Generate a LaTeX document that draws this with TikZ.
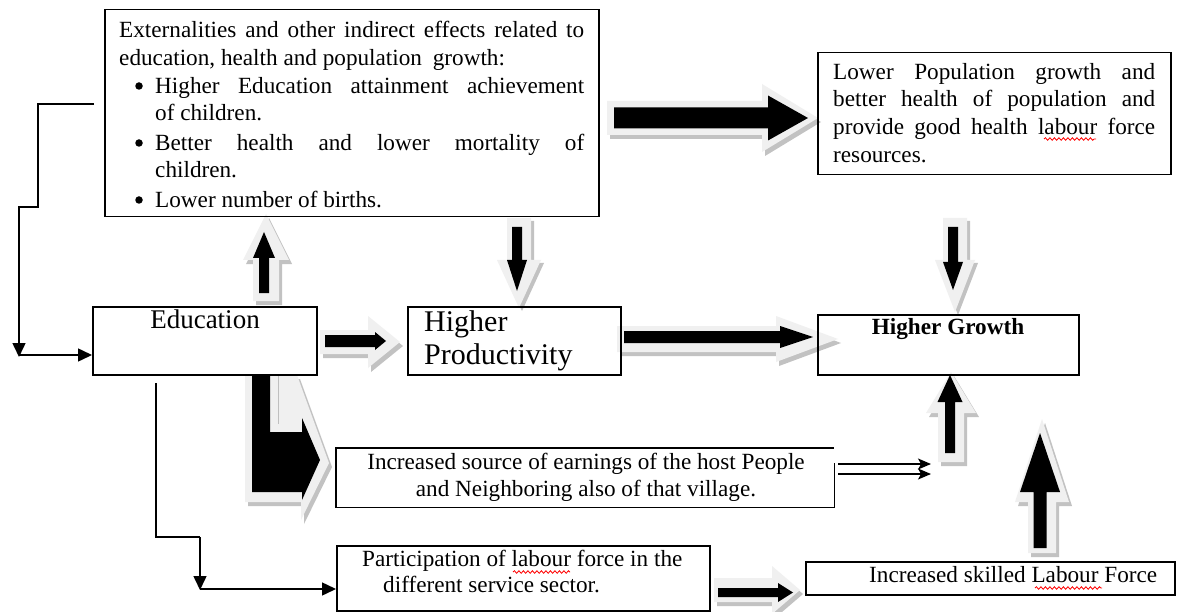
\documentclass[tikz,border=0pt]{standalone}
\usepackage{fontspec}
\setmainfont{Liberation Serif}
\usetikzlibrary{arrows.meta,calc,decorations.pathmorphing}

\tikzset{
  box/.style={draw=black, line width=1.5pt, inner sep=0pt, anchor=north west},
  conn/.style={line width=1.5pt, -{Triangle[length=14pt,width=13pt]}},
  wire/.style={line width=1.5pt},
  blk/.style={fill=black},
  glow/.style={fill=black!6},
  shade/.style={fill=black!24},
  dot/.style={circle, fill=black, inner sep=0pt, minimum size=7.5pt},
  squig/.style={red, line width=0.8pt, decorate, decoration={snake, amplitude=1.3pt, segment length=4.5pt}},
  txt/.style={inner sep=0pt, anchor=base west, font=\fontsize{23.2}{28}\selectfont},
  ctxt/.style={inner sep=0pt, anchor=base, font=\fontsize{23.2}{28}\selectfont},
}

% right / up / down block arrows: style, tail, tip, centre, shaft half width, head half width, head length
\newcommand\myRA[7]{\fill[#1] (#2,{#4-#5}) -- ({#3-#7},{#4-#5}) -- ({#3-#7},{#4-#6}) -- (#3,#4) -- ({#3-#7},{#4+#6}) -- ({#3-#7},{#4+#5}) -- (#2,{#4+#5}) -- cycle;}
% centre x, tail y, tip y, ...
\newcommand\myUA[7]{\fill[#1] ({#2-#5},#3) -- ({#2-#5},{#4+#7}) -- ({#2-#6},{#4+#7}) -- (#2,#4) -- ({#2+#6},{#4+#7}) -- ({#2+#5},{#4+#7}) -- ({#2+#5},#3) -- cycle;}
\newcommand\myDA[7]{\fill[#1] ({#2-#5},#3) -- ({#2-#5},{#4-#7}) -- ({#2-#6},{#4-#7}) -- (#2,#4) -- ({#2+#6},{#4-#7}) -- ({#2+#5},{#4-#7}) -- ({#2+#5},#3) -- cycle;}

\begin{document}
\begin{tikzpicture}[x=1pt,y=-1pt]
\useasboundingbox (0,0) rectangle (1177,612);
\fill[white] (0,0) rectangle (1177,612);

% ---------- glows and shadows of the block arrows ----------
\myRA{shade,shift={(3,4)}}{607}{818}{118}{17}{34}{56}
\myRA{glow}{607}{818}{118}{17}{34}{56}
\myRA{shade,shift={(3,4)}}{320}{400}{342}{12}{26}{32}
\myRA{glow}{320}{400}{342}{12}{26}{32}
\myRA{shade,shift={(3,4)}}{617}{838}{339}{13}{23}{62}
\myRA{glow}{617}{838}{339}{13}{23}{62}
\myUA{shade,shift={(3,4)}}{266}{301}{214}{13}{23}{46}
\myUA{glow}{266}{301}{214}{13}{23}{46}
\myDA{shade,shift={(3,3)}}{519}{218}{308}{12}{22}{48}
\myDA{glow}{519}{218}{308}{12}{22}{48}
\myDA{shade,shift={(3,3)}}{955}{218}{312}{12}{20}{52}
\myDA{glow}{955}{218}{312}{12}{20}{52}
\myUA{shade,shift={(3,4)}}{951}{462}{372}{13}{25}{41}
\myUA{glow}{951}{462}{372}{13}{25}{41}
\myUA{shade,shift={(3,4)}}{1042}{553}{419}{14}{27}{83}
\myUA{glow}{1042}{553}{419}{14}{27}{83}
\myRA{shade,shift={(3,4)}}{714}{800}{590}{12}{24}{28}
\myRA{glow}{714}{800}{590}{12}{24}{28}
% bent arrow glow
\fill[shade,shift={(3,4)}] (245,375) -- (297,375) -- (329,463) -- (301,520) -- (301,502) -- (245,502) -- cycle;
\fill[glow] (245,375) -- (297,375) -- (329,463) -- (301,520) -- (301,502) -- (245,502) -- cycle;
\draw[black!25, line width=1pt] (278,376) -- (278,424);

% ---------- boxes ----------
\node[box, minimum width=494pt, minimum height=207pt] (ext) at (104,9) {};
\node[box, minimum width=353pt, minimum height=122pt] (pop) at (817,52) {};
\node[box, minimum width=224pt, minimum height=68pt] (edu) at (92,306) {};
\node[box, minimum width=213pt, minimum height=68pt] (hp) at (407,306) {};
\node[box, minimum width=261pt, minimum height=60pt] (hg) at (817,314) {};
\node[inner sep=0pt, anchor=north west, minimum width=498pt, minimum height=59pt] (src) at (336,448) {};
\draw[line width=1.5pt] ($(src.north east)+(0,15)$) -- (src.south east) -- (src.south west) -- (src.north west) -- (src.north east);
\node[box, minimum width=373pt, minimum height=65pt] (part) at (336,545) {};
\node[box, minimum width=369pt, minimum height=33pt] (skl) at (805,561) {};

% ---------- black block arrows ----------
\myRA{blk}{614}{808}{118}{10.5}{22.5}{40}
\myRA{blk}{325}{386}{341}{6}{9}{11}
\myRA{blk}{624}{813}{337}{6}{11}{33}
\myUA{blk}{264}{293}{232}{5}{11}{26}
\myDA{blk}{517}{227}{291}{5}{10}{31}
\myDA{blk}{953}{227}{290}{5}{10}{28}
\myUA{blk}{950}{453}{375}{5}{12.5}{27}
\myUA{blk}{1040}{548}{433}{6.5}{20}{59}
\myRA{blk}{718}{793}{592.5}{4.5}{9.5}{15}
\fill[blk] (252,375) -- (270,375) -- (270,432) -- (302,432) -- (302,418) -- (320,460) -- (302,500) -- (302,492) -- (252,492) -- cycle;

% ---------- texts ----------
\node[txt] (e1) at (119,38) {\makebox[465pt][s]{Externalities and other indirect effects related to}};
\node[txt] (e2) at (119,66) {education, health and population\hspace{5pt} growth:};
\node[dot] (b1) at (139,86) {};
\node[txt] (e3) at (155,94) {\makebox[429pt][s]{Higher Education attainment achievement}};
\node[txt] (e4) at (155,121) {of children.};
\node[dot] (b2) at (139,143) {};
\node[txt] (e5) at (155,151) {\makebox[429pt][s]{Better health and lower mortality of}};
\node[txt] (e6) at (155,178) {children.};
\node[dot] (b3) at (139,200) {};
\node[txt] (e7) at (155,208) {Lower number of births.};

\node[txt] (p1) at (833,80) {\makebox[322pt][s]{Lower Population growth and}};
\node[txt] (p2) at (833,107) {\makebox[322pt][s]{better health of population and}};
\node[txt] (p3) at (833,135) {\makebox[322pt][s]{provide good health labour force}};
\node[txt] (p4) at (833,163) {resources.};
\draw[squig] (1044,139) -- (1096,139);

\node[inner sep=0pt, anchor=base, font=\fontsize{27}{32}\selectfont] (edut) at (205,328) {Education};
\node[inner sep=0pt, anchor=base west, font=\fontsize{30}{34}\selectfont] (hpt1) at (424,331) {Higher};
\node[inner sep=0pt, anchor=base west, font=\fontsize{30}{34}\selectfont] (hpt2) at (424,364) {Productivity};
\node[ctxt, font=\fontsize{23.2}{28}\selectfont\bfseries] (hgt) at (948,334) {Higher Growth};

\node[ctxt] (s1t) at (586,469) {Increased source of earnings of the host People};
\node[ctxt] (s2t) at (586,496) {and Neighboring also of that village.};

\node[txt] (pt1) at (362,566) {Participation of labour force in the};
\node[txt] (pt2) at (383,592) {different service sector.};
\draw[squig] (513,572) -- (570,572);

\node[txt] (kt) at (869,582) {Increased skilled Labour Force};
\draw[squig] (1035,588) -- (1102,588);

% ---------- thin connectors ----------
\coordinate (c0) at (94,104);
\coordinate (c1) at (38,207);
\coordinate (c2) at (19,357);
\coordinate (c3) at (19,355);
\draw[conn] (c0) -| (c1) -| (c2);
\draw[conn] (c3) -- (c3 -| edu.west);

\coordinate (d0) at (156,383);
\coordinate (d1) at (200,537);
\coordinate (d2) at (200,590);
\coordinate (d3) at (200,589);
\draw[wire] (d0) |- (d1);
\draw[conn] (d1) -- (d2);
\draw[conn] (d3) -- (d3 -| part.west);

\coordinate (f1) at (838,464);
\coordinate (f2) at (838,474);
\coordinate (g1) at (931,464);
\coordinate (g2) at (931,474);
\draw[line width=1.4pt, -{Stealth[length=13pt,width=11pt,inset=3pt]}] (f1) -- (g1);
\draw[line width=1.4pt, -{Stealth[length=13pt,width=11pt,inset=3pt]}] (f2) -- (g2);
\end{tikzpicture}
\end{document}
